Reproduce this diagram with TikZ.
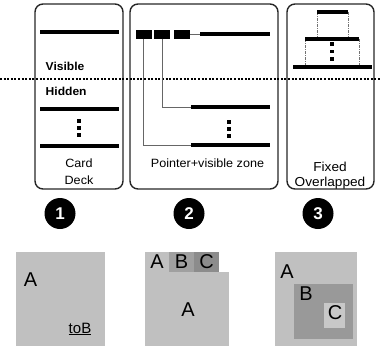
\documentclass[tikz,border=0pt]{standalone}
\usepackage{fontspec}
\setmainfont{Liberation Sans}[FakeStretch=1.05]
\newfontfamily\plainsans{Liberation Sans}
\definecolor{gA}{HTML}{C0C0C0}
\definecolor{gB}{HTML}{A0A0A0}
\definecolor{gC}{HTML}{8C8C8C}
\definecolor{gB3}{HTML}{999999}
\definecolor{gC3}{HTML}{C8C8C8}
\begin{document}
\begin{tikzpicture}[x=1pt,y=-1pt,
  panel/.style={draw=black!85, line width=1.4pt, rounded corners=8pt},
  bar/.style={line width=4pt},
  ptr/.style={fill=black, minimum width=16pt, minimum height=9pt, inner sep=0pt},
  link/.style={draw=black!60, line width=0.8pt},
  guide/.style={draw=black!55, line width=0.6pt, dash pattern=on 3pt off 1pt on 1pt off 1pt},
  vdot/.style={fill=black, minimum size=3.4pt, inner sep=0pt},
  num/.style={circle, fill=black, minimum size=31pt, inner sep=0pt, text=white, font=\plainsans\bfseries\fontsize{17}{17}\selectfont},
  lbl/.style={font=\fontsize{12}{17}\selectfont, align=center, inner sep=0pt},
  bold/.style={font=\bfseries\fontsize{11.5}{12}\selectfont, inner sep=0pt, anchor=west},
  big/.style={font=\plainsans\fontsize{20}{20}\selectfont, inner sep=0pt}]
\useasboundingbox (0,0) rectangle (380,348);
% panels
\draw[panel] (35,4) rectangle (123,189);
\draw[panel] (130,4) rectangle (278,189);
\draw[panel] (287,4) rectangle (374,189);
% separator
\draw[line width=2pt, dash pattern=on 2pt off 1.6pt] (0,79) -- (380,79);
% panel 1
\draw[bar] (40,32) -- (119,32);
\node[bold] (vis) at (45.5,66) {Visible};
\node[bold] (hid) at (45.5,91) {Hidden};
\draw[bar] (40,109) -- (119,109);
\node[vdot] (d11) at (79,121) {};
\node[vdot] (d12) at (79,128) {};
\node[vdot] (d13) at (79,135) {};
\draw[bar] (40,146) -- (119,146);
\node[lbl] (card) at (79,171.5) {Card\\ Deck};
% panel 2
\node[ptr] (p1) at (143.5,34) {};
\node[ptr] (p2) at (162,34) {};
\node[ptr] (p3) at (182,34) {};
\coordinate (b1) at (200,34);
\coordinate (b2) at (191,107);
\coordinate (b3) at (191,145);
\draw[bar] (b1) -- (270,34);
\draw[bar] (b2) -- (270,107);
\draw[bar] (b3) -- (270,145);
\draw[link] (p3.east) -- (b1);
\draw[link] (p2.south) |- (b2);
\draw[link] (p1.south) |- (b3);
\node[vdot] (d21) at (229,122) {};
\node[vdot] (d22) at (229,129) {};
\node[vdot] (d23) at (229,136) {};
\node[lbl] (pz) at (207.5,163) {Pointer+visible zone};
% panel 3
\coordinate (t1) at (317,12);
\coordinate (t2) at (348,12);
\coordinate (m1) at (305,39);
\coordinate (m2) at (359,39);
\coordinate (u1) at (293,67);
\coordinate (u2) at (372,67);
\draw[guide] (t1) -- (t1 |- m1);
\draw[guide] (t2) -- (t2 |- m1);
\draw[guide] (m1) -- (m1 |- u1);
\draw[guide] (m2) -- (m2 |- u1);
\draw[bar] (t1) -- (t2);
\draw[bar] (m1) -- (m2);
\draw[bar] (u1) -- (u2);
\node[vdot] (d31) at (332,44) {};
\node[vdot] (d32) at (332,51.5) {};
\node[vdot] (d33) at (332,59) {};
\node[lbl, font=\fontsize{13}{15.5}\selectfont] (fo) at (330,175.5) {Fixed\\ Overlapped};
% numbers
\node[num] (n1) at (60,213.5) {1};
\node[num] (n2) at (189,213.5) {2};
\node[num] (n3) at (318,213.5) {3};
% bottom panel 1
\fill[gA] (16,252) rectangle (105,346);
\node[big] (a1) at (30.5,280) {A};
\node[font=\plainsans\fontsize{15}{15}\selectfont, inner sep=0pt] (tob) at (80,329) {\underline{toB}};
% bottom panel 2
\fill[gA] (145,252) rectangle (169,272);
\fill[gB] (169,252) rectangle (194,272);
\fill[gC] (194,252) rectangle (219,272);
\fill[gA] (145,272) rectangle (229,346);
\node[big] (a2t) at (157,262) {A};
\node[big] (b2t) at (181.5,262) {B};
\node[big] (c2t) at (206.5,262) {C};
\node[big] (a2) at (188,310) {A};
% bottom panel 3
\fill[gA] (275,252) rectangle (357,346);
\fill[gB3] (294,284) rectangle (353,339);
\fill[gC3] (324,303) rectangle (345,328);
\node[big] (a3) at (287,272) {A};
\node[big] (b3t) at (306,294) {B};
\node[big] (c3t) at (335,313) {C};
\end{tikzpicture}
\end{document}
